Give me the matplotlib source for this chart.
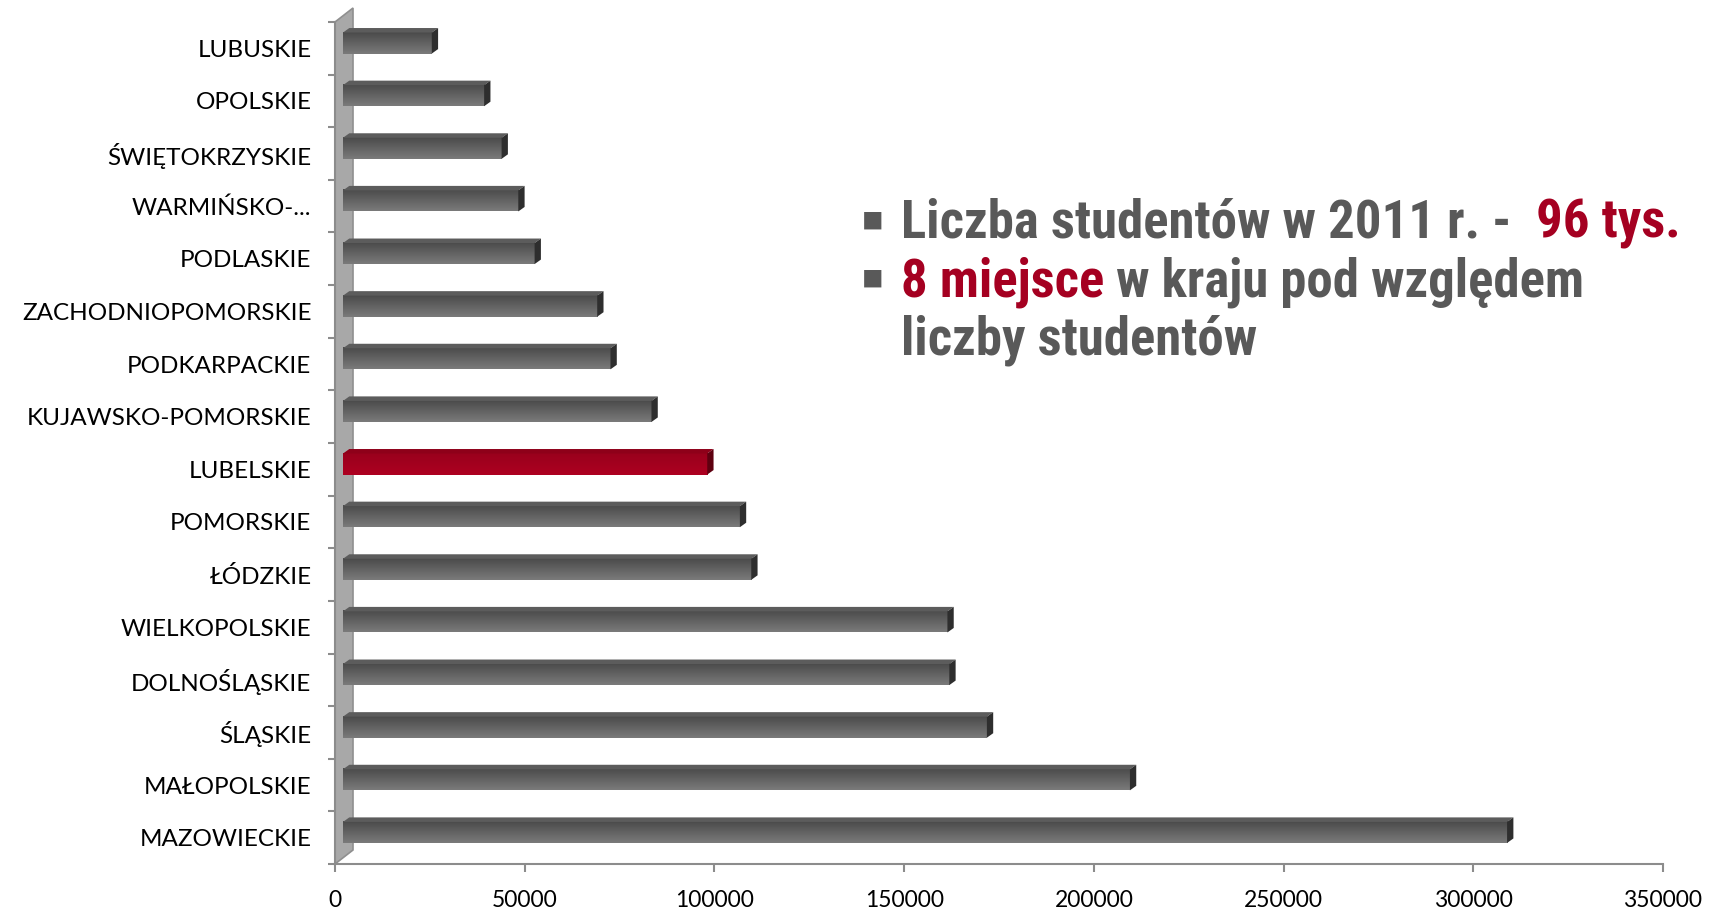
import numpy as np

import matplotlib
matplotlib.use("Agg")
import matplotlib.pyplot as plt
from matplotlib.patches import Polygon


REGIONS = [
    "MAZOWIECKIE", "MAŁOPOLSKIE", "ŚLĄSKIE", "DOLNOŚLĄSKIE", "WIELKOPOLSKIE",
    "ŁÓDZKIE", "POMORSKIE", "LUBELSKIE", "KUJAWSKO-POMORSKIE", "PODKARPACKIE",
    "ZACHODNIOPOMORSKIE", "PODLASKIE", "WARMIŃSKO-...", "ŚWIĘTOKRZYSKIE",
    "OPOLSKIE", "LUBUSKIE",
]
STUDENTS = [
    306800, 207400, 169700, 159800, 159300,
    107600, 104600, 96000, 81300, 70500,
    67000, 50500, 46200, 41800, 37200, 23400,
]
HIGHLIGHT = "LUBELSKIE"
X_TICKS = [0, 50000, 100000, 150000, 200000, 250000, 300000, 350000]

GRAY_TEXT = "#595959"
RED = "#a50021"
AXIS_GRAY = "#8c8c8c"

W, H = 1725, 910


def px_to_data(ax):
    bbox = ax.get_window_extent()
    x0, x1 = ax.get_xlim()
    y0, y1 = ax.get_ylim()
    return (x1 - x0) / bbox.width, (y1 - y0) / bbox.height


def main():
    plt.rcParams["font.family"] = ["Lato", "DejaVu Sans"]

    fig = plt.figure(figsize=(W / 100, H / 100), dpi=100)
    ax = fig.add_axes([335 / W, 1 - 864 / H, 1328 / W, 842 / H])

    n = len(REGIONS)
    ax.set_xlim(0, X_TICKS[-1])
    ax.set_ylim(-0.5, n - 0.5)
    sx, sy = px_to_data(ax)

    # side wall of the 3D chart
    wdx, wdy = 18 * sx, 14 * sy
    wall = Polygon(
        [(0, -0.5), (0, n - 0.5), (wdx, n - 0.5 + wdy), (wdx, -0.5 + wdy)],
        closed=True, facecolor="#a8a8a8", edgecolor="#8f8f8f",
        linewidth=1.2, zorder=2, clip_on=False,
    )
    ax.add_patch(wall)

    # bars with a fake 3D depth
    bar_h = 0.40
    shift = 0.10
    left = 8 * sx
    ddx, ddy = 6.3 * sx, 4.5 * sy
    ypos = np.arange(n) + shift

    colors = [RED if r == HIGHLIGHT else "#5a5a5a" for r in REGIONS]
    bars = ax.barh(ypos, STUDENTS, height=bar_h, left=left, color=colors,
                   linewidth=0, zorder=3)

    grad = np.linspace(0, 1, 64).reshape(-1, 1, 1)
    for rect, region in zip(bars, REGIONS):
        xa = rect.get_x()
        xb = xa + rect.get_width()
        yb = rect.get_y()
        yt = yb + rect.get_height()
        if region == HIGHLIGHT:
            c_top = np.array([0.60, 0.0, 0.11])
            c_bot = np.array([0.68, 0.0, 0.13])
            top_face, side_face = "#8e0019", "#5e0010"
        else:
            c_top = np.array([0.29, 0.29, 0.29])
            c_bot = np.array([0.48, 0.48, 0.48])
            top_face, side_face = "#5c5c5c", "#2e2e2e"
        img = c_top * (1 - grad) + c_bot * grad
        ax.imshow(img, extent=(xa, xb, yb, yt), origin="upper",
                  aspect="auto", interpolation="bilinear", zorder=3.2)

        ax.add_patch(Polygon(
            [(xa, yt), (xb, yt), (xb + ddx, yt + ddy), (xa + ddx, yt + ddy)],
            closed=True, facecolor=top_face, edgecolor="none", zorder=3.3))
        ax.add_patch(Polygon(
            [(xb, yb), (xb, yt), (xb + ddx, yt + ddy), (xb + ddx, yb + ddy)],
            closed=True, facecolor=side_face, edgecolor="none", zorder=3.3))

    ax.set_xlim(0, X_TICKS[-1])
    ax.set_ylim(-0.5, n - 0.5)

    # axes styling
    for side in ("top", "right"):
        ax.spines[side].set_visible(False)
    for side in ("left", "bottom"):
        ax.spines[side].set_color(AXIS_GRAY)
        ax.spines[side].set_linewidth(1.5)

    ax.set_yticks(range(n))
    ax.set_yticklabels(REGIONS)
    ax.set_yticks(np.arange(-0.5, n, 1), minor=True)
    ax.tick_params(axis="y", which="major", length=0, pad=17,
                   labelsize=17.5, labelcolor="black")
    ax.tick_params(axis="y", which="minor", length=5, width=1.5,
                   color=AXIS_GRAY)

    ax.set_xticks(X_TICKS)
    ax.set_xticklabels([str(v) for v in X_TICKS])
    ax.tick_params(axis="x", length=6, width=1.5, color=AXIS_GRAY,
                   pad=13, labelsize=16.5, labelcolor="black")

    # annotation text on the right
    font = dict(family=["Roboto Condensed", "Arial Narrow",
                        "Liberation Sans Narrow", "Roboto", "DejaVu Sans"],
                fontweight="bold", fontsize=35)
    lines = [
        [("Liczba studentów w 2011 r. -  ", GRAY_TEXT), ("96 tys.", RED)],
        [("8 miejsce", RED), (" w kraju pod względem", GRAY_TEXT)],
        [("liczby studentów", GRAY_TEXT)],
    ]
    bullets = [True, True, False]
    x_text = 901 / W
    baselines = [238, 296, 354]

    texts = []
    line_objs = []
    for parts, bullet, base in zip(lines, bullets, baselines):
        y = 1 - base / H
        if bullet:
            fig.text(873 / W, 1 - (base - 18) / H, "▪", color=GRAY_TEXT,
                     fontsize=25, family="DejaVu Sans",
                     ha="center", va="center")
        prev = None
        objs = []
        for txt, col in parts:
            if prev is None:
                prev = fig.text(x_text, y, txt, color=col, va="baseline",
                                ha="left", **font)
            else:
                prev = ax.annotate(txt, xy=(1, 0), xycoords=prev,
                                   va="bottom", ha="left", color=col,
                                   annotation_clip=False, **font)
            objs.append(prev)
        texts.extend(objs)
        line_objs.append(objs)

    # fit the first line to the width it has in the reference
    fig.canvas.draw()
    renderer = fig.canvas.get_renderer()
    first = line_objs[0]
    width = (first[-1].get_window_extent(renderer).x1
             - first[0].get_window_extent(renderer).x0)
    size = min(38, 35 * 812 / width)
    for t in texts:
        t.set_fontsize(size)

    fig.savefig("out.png", dpi=100)
    plt.close(fig)


if __name__ == "__main__":
    main()
